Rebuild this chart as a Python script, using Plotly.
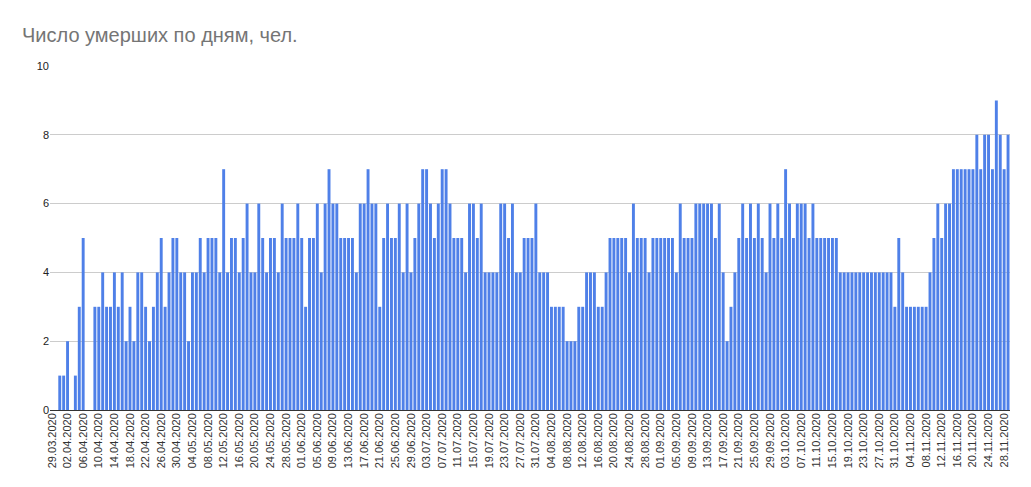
import pandas as pd
import plotly.graph_objects as go

# daily deaths (29.03.2020 - 29.11.2020)
march = [0, 0, 1]
april = [1, 2, 0, 1, 3, 5, 0, 0, 3, 3, 4, 3, 3, 4, 3, 4, 2, 3, 2, 4,
         4, 3, 2, 3, 4, 5, 3, 4, 5, 5]
may = [4, 4, 2, 4, 4, 5, 4, 5, 5, 5, 4, 7, 4, 5, 5, 4, 5, 6, 4, 4,
       6, 5, 4, 5, 5, 4, 6, 5, 5, 5, 6]
june = [5, 3, 5, 5, 6, 4, 6, 7, 6, 6, 5, 5, 5, 5, 4, 6, 6, 7, 6, 6,
        3, 5, 6, 5, 5, 6, 4, 6, 4, 5]
july = [6, 7, 7, 6, 5, 6, 7, 7, 6, 5, 5, 5, 4, 6, 6, 5, 6, 4, 4, 4,
        4, 6, 6, 5, 6, 4, 4, 5, 5, 5, 6]
august = [4, 4, 4, 3, 3, 3, 3, 2, 2, 2, 3, 3, 4, 4, 4, 3, 3, 4, 5, 5,
          5, 5, 5, 4, 6, 5, 5, 5, 4, 5, 5]
september = [5, 5, 5, 5, 4, 6, 5, 5, 5, 6, 6, 6, 6, 6, 5, 6, 4, 2, 3, 4,
             5, 6, 5, 6, 5, 6, 5, 4, 6, 5]
october = [6, 5, 7, 6, 5, 6, 6, 6, 5, 6, 5, 5, 5, 5, 5, 5, 4, 4, 4, 4,
           4, 4, 4, 4, 4, 4, 4, 4, 4, 4, 3]
november = [5, 4, 3, 3, 3, 3, 3, 3, 4, 5, 6, 5, 6, 6, 7, 7, 7, 7, 7, 7,
            8, 7, 8, 8, 7, 9, 8, 7, 8]

deaths = march + april + may + june + july + august + september + october + november
dates = pd.date_range("2020-03-29", periods=len(deaths), freq="D").strftime("%d.%m.%Y").tolist()
tick_labels = dates[::4]

# the page body adds an 8px offset, so the figure is a bit smaller than the window
W, H = 1023, 479

fig = go.Figure(
    go.Bar(
        x=dates,
        y=deaths,
        marker=dict(color="#4f80e8", line=dict(width=0)),
        hovertemplate="%{x}: %{y}<extra></extra>",
    )
)

fig.update_layout(
    title=dict(
        text="Число умерших по дням, чел.",
        x=14 / W, xref="container", xanchor="left",
        y=1 - 27 / H, yref="container", yanchor="middle",
        font=dict(family="Arial, Liberation Sans, sans-serif", size=20, color="#757575"),
    ),
    width=W,
    height=H,
    margin=dict(l=42, r=21, t=58, b=77),
    bargap=0.25,
    plot_bgcolor="white",
    paper_bgcolor="white",
    showlegend=False,
    font=dict(family="Arial, Liberation Sans, sans-serif", size=11, color="#222222"),
    xaxis=dict(
        type="category",
        tickmode="array",
        tickvals=tick_labels,
        ticktext=tick_labels,
        tickangle=-90,
        showgrid=False,
        showline=False,
        ticks="",
        automargin=False,
        tickfont=dict(size=11, color="#333333"),
    ),
    yaxis=dict(
        range=[0, 10],
        dtick=2,
        showgrid=True,
        gridcolor="#cccccc",
        zeroline=True,
        zerolinecolor="#333333",
        zerolinewidth=1,
        ticks="",
        automargin=False,
        tickfont=dict(size=11, color="#222222"),
    ),
)

fig.write_html("out.html")
